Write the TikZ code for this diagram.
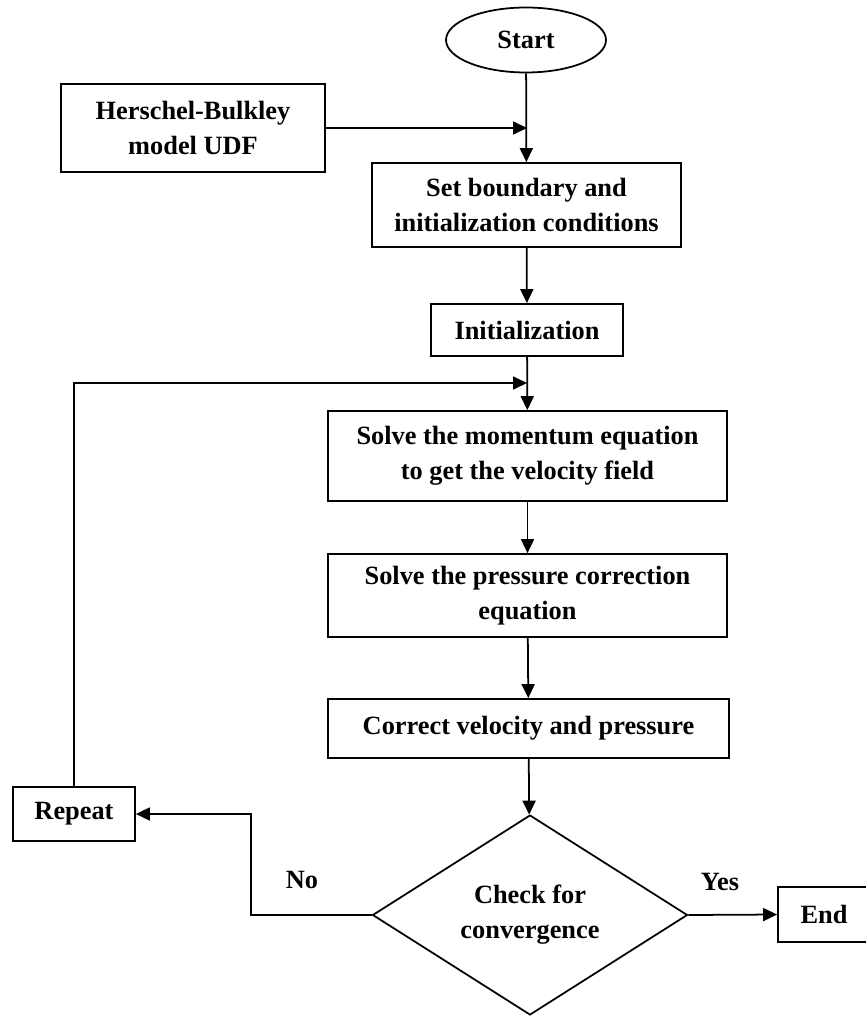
\documentclass[tikz,border=0pt]{standalone}
\usepackage{fontspec}
\setmainfont{Liberation Serif}
\usepackage{tikz}
\usetikzlibrary{arrows.meta,shapes.geometric,positioning,calc}

\begin{document}
\begin{tikzpicture}[x=0.02cm, y=-0.02cm,
  line width=1pt,
  box/.style={draw, rectangle, align=center, inner sep=0pt, font=\fontsize{15}{20}\selectfont\bfseries},
  flow/.style={-{Triangle[length=2.8mm,width=2.6mm]}},
  lbl/.style={font=\fontsize{15}{20}\selectfont\bfseries}]
\useasboundingbox (0,0) rectangle (865,1017);
\node[box, ellipse, minimum width=3.2cm, minimum height=1.3cm] (start) at (526,40) {Start};
\node[box, minimum width=5.28cm, minimum height=1.76cm] (hbudf) at (193,128) {Herschel-Bulkley\\model UDF};
\node[box, minimum width=6.18cm, minimum height=1.68cm] (setbc) at (526.5,205) {Set boundary and\\initialization conditions};
\node[box, minimum width=3.84cm, minimum height=1.04cm] (init) at (527,330) {Initialization};
\node[box, minimum width=7.98cm, minimum height=1.8cm] (momentum) at (527.5,456) {Solve the momentum equation\\to get the velocity field};
\node[box, minimum width=7.98cm, minimum height=1.66cm] (pressure) at (527.5,595.5) {Solve the pressure correction\\equation};
\node[box, minimum width=8.02cm, minimum height=1.18cm] (correct) at (528.5,728.5) {Correct velocity and pressure};
\node[box, diamond, aspect=1.575, minimum width=6.3cm, minimum height=4cm] (check) at (530,915) {Check for\\convergence};
\node[box, minimum width=2.44cm, minimum height=1.08cm] (repeat) at (74,814) {Repeat};
\node[box, minimum width=1.84cm, minimum height=1.1cm] (end) at (824,914.5) {End};
\coordinate (join1) at (527,128);
\coordinate (join2) at (527,383);
\draw[flow] (start) -- (setbc);
\draw[flow] (hbudf.east) -- (join1);
\draw[flow] (setbc) -- (init);
\draw[flow] (init) -- (momentum);
\draw[flow] (momentum) -- (pressure);
\draw[flow] (pressure) -- (correct);
\draw[flow] (correct) -- (check);
\draw[flow] (repeat.north) |- (join2);
\draw[flow] (check.west) -- ++(-121,0) |- (repeat.east);
\draw[flow] (check.east) -- (end.west);
\node[lbl] (no) at (302,880) {No};
\node[lbl] (yes) at (720,882) {Yes};
\end{tikzpicture}
\end{document}
